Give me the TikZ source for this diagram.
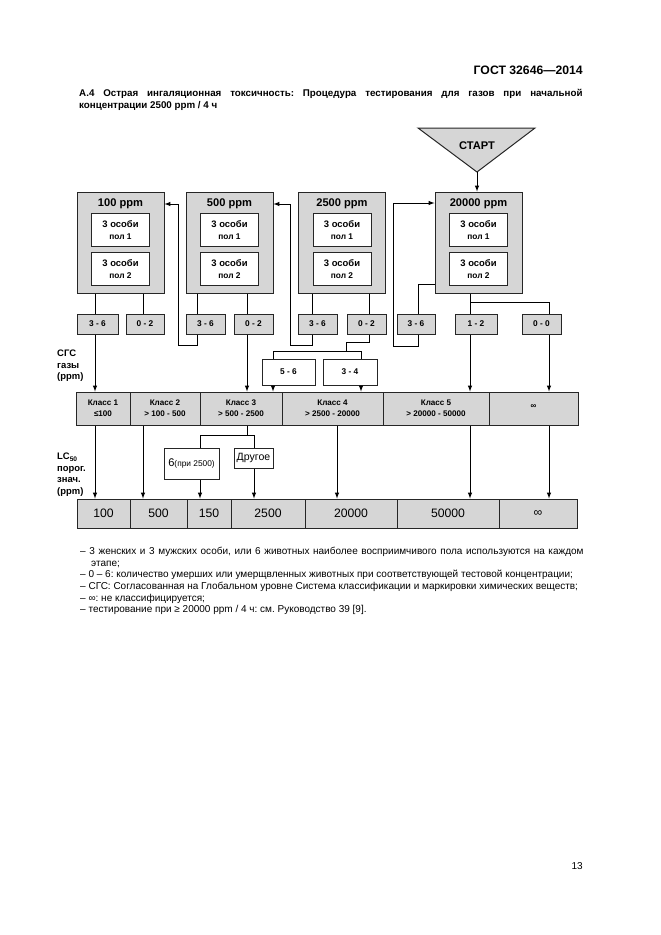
\documentclass[tikz,border=0pt]{standalone}
\usepackage{fontspec}
\setmainfont{Liberation Sans}
\usetikzlibrary{positioning,calc,arrows}
\newcommand{\ux}{0.9pt}
\frenchspacing

\begin{document}
\begin{tikzpicture}[x=0.9pt,y=-0.9pt]
\colorlet{boxcol}{gray!32}
\tikzstyle{big}=[draw=black!85, fill=boxcol, line width=0.9pt, inner sep=0, minimum width=87*\ux, minimum height=101*\ux];
\tikzstyle{ttl}=[font=\bfseries\fontsize{10}{12}\selectfont];
\tikzstyle{inbox}=[draw=black!85, fill=white, line width=0.6pt, inner sep=0, align=center, minimum width=58*\ux, minimum height=33*\ux];
\tikzstyle{cnt}=[draw=black!85, fill=boxcol, line width=0.9pt, inner sep=0, minimum height=20*\ux, font=\bfseries\fontsize{7.5}{9}\selectfont];
\tikzstyle{cls}=[draw=black!85, fill=boxcol, line width=0.9pt, inner sep=0, align=center, minimum height=33*\ux, font=\bfseries\fontsize{7.3}{10}\selectfont];
\tikzstyle{lcv}=[draw=black!85, fill=boxcol, line width=0.9pt, inner sep=0, minimum height=29*\ux, font=\fontsize{11}{13}\selectfont];
\tikzstyle{wbox}=[draw=black!85, fill=white, line width=0.9pt, inner sep=0, align=center];
\tikzstyle{side}=[anchor=north west, inner sep=0, align=left, font=\bfseries\fontsize{8.5}{10.4}\selectfont];
\tikzstyle{arr}=[->, >=latex];
\tikzstyle{con}=[line width=0.8pt];

\useasboundingbox (0,0) rectangle (661,935);

% page head
\node[anchor=base east, inner sep=0, font=\bfseries\fontsize{11}{13}\selectfont] (gost) at (583,74) {ГОСТ 32646—2014};
\node[anchor=north west, inner sep=0, text width=453pt, align=justify, font=\bfseries\fontsize{8.8}{11}\selectfont] (head) at (79,89)
  {А.4 Острая ингаляционная токсичность: Процедура тестирования для газов при начальной\linebreak концентрации 2500 ppm / 4 ч};

% start
\filldraw[fill=boxcol, draw=black!85, line width=0.9pt] (418,128) -- (535,128) -- (477,172) -- cycle;
\coordinate (apex) at (477,172);
\node[ttl] (start) at (477,146) {СТАРТ};

% test boxes
\foreach \nm/\xc/\lab in {b100/120.5/100 ppm, b500/229.5/500 ppm, b2500/342/2500 ppm, b20000/478.5/20000 ppm}
{
  \node[big] (\nm) at (\xc,242.5) {};
  \node[ttl] (\nm t) at ($(\nm.north)+(0,12)$) {\lab};
  \node[inbox] (\nm a) at ($(\nm.north)+(0,38.5)$) {{\bfseries\fontsize{8.5}{10}\selectfont 3 особи}\\[-0.5pt]{\bfseries\fontsize{7.5}{9}\selectfont пол 1}};
  \node[inbox] (\nm b) at ($(\nm.north)+(0,77.5)$) {{\bfseries\fontsize{8.5}{10}\selectfont 3 особи}\\[-0.5pt]{\bfseries\fontsize{7.5}{9}\selectfont пол 2}};
}

% outcome boxes
\foreach \nm/\xc/\w/\lab in {s1/97.5/41/3 - 6, s2/145/38/0 - 2, s3/205.5/39/3 - 6, s4/253.5/39/0 - 2, s5/317.5/39/3 - 6, s6/366.5/39/0 - 2, s7/416/38/3 - 6, s8/476/42/1 - 2, s9/541.5/39/0 - 0}
  \node[cnt, minimum width=\w*\ux] (\nm) at (\xc,324) {\lab};

\node[wbox, minimum width=53*\ux, minimum height=26*\ux, font=\bfseries\fontsize{7.5}{9}\selectfont] (m56) at (288.5,372) {5 - 6};
\node[wbox, minimum width=54*\ux, minimum height=26*\ux, font=\bfseries\fontsize{7.5}{9}\selectfont] (m34) at (350,372) {3 - 4};

% GHS classes
\foreach \nm/\xc/\w/\lab in {k1/103/54/{Класс 1\\≤100}, k2/165/70/{Класс 2\\> 100 - 500}, k3/241/82/{Класс 3\\> 500 - 2500}, k4/332.5/101/{Класс 4\\> 2500 - 20000}, k5/436/106/{Класс 5\\> 20000 - 50000}, k6/533.5/89/{\raisebox{3pt}{∞}}}
  \node[cls, minimum width=\w*\ux] (\nm) at (\xc,408.5) {\lab};

\node[wbox, minimum width=55*\ux, minimum height=31*\ux] (d6) at (191.5,463.5) {{\fontsize{10}{12}\selectfont 6}{\fontsize{7.5}{9}\selectfont(при 2500)}};
\node[wbox, minimum width=39*\ux, minimum height=20*\ux, font=\fontsize{9.5}{11}\selectfont] (dd) at (253.5,458) {Другое};

% LC50 values
\foreach \nm/\xc/\w/\lab in {l1/103.5/53/100, l2/158.5/57/500, l3/209/44/150, l4/268/74/2500, l5/351/92/20000, l6/448/102/50000, l7/538/78/∞}
  \node[lcv, minimum width=\w*\ux] (\nm) at (\xc,513.5) {\lab};

\node[side] (ghs) at (57,350) {СГС\\газы\\(ppm)};
\node[side] (lcs) at (57,453) {LC\textsubscript{50}\\порог.\\знач.\\(ppm)};

% connector rails
\foreach \nm/\v in {x95/95, x143/143, x178/178, x197/197, x200/200, x247/247, x254/254, x273/273, x290/290, x312/312, x337/337, x346/346, x361/361, x369/369, x393/393, x418/418, x470/470, x549/549}
  \coordinate (\nm) at (\v,0);
\foreach \nm/\v in {y203/203, y204/204, y284/284, y302/302, y342/342, y345/345, y346/346, y351/351, y435/435}
  \coordinate (\nm) at (0,\v);

\begin{scope}[con]
  \draw[arr] (apex) -- (b20000.north -| apex);

  \draw (b100.south -| x95) -- (s1.north -| x95);
  \draw (b100.south -| x143) -- (s2.north -| x143);
  \draw[arr] (s1.south -| x95) -- (k1.north -| x95);

  \draw (b500.south -| x197) -- (s3.north -| x197);
  \draw (b500.south -| x247) -- (s4.north -| x247);
  \draw[arr] (s3.south -| x197) |- (x178 |- y345) |- (b100.east |- y204);
  \draw[arr] (s4.south -| x247) -- (k3.north -| x247);

  \draw (b2500.south -| x312) -- (s5.north -| x312);
  \draw (b2500.south -| x369) -- (s6.north -| x369);
  \draw[arr] (s5.south -| x312) |- (x290 |- y345) |- (b500.east |- y204);
  \draw (s6.south -| x369) |- (x346 |- y342) -- (x346 |- y351);
  \draw (m56.north -| x273) |- (x361 |- y351) -- (m34.north -| x361);
  \draw[arr] (m56.south -| x273) -- (k3.north -| x273);
  \draw[arr] (m34.south -| x361) -- (k4.north -| x361);

  \draw (b20000.west |- y284) -| (s7.north -| x418);
  \draw[arr] (s7.south -| x418) |- (x393 |- y346) |- (b20000.west |- y203);
  \draw (b20000.south -| x470) -- (s8.north -| x470);
  \draw (x470 |- y302) -| (s9.north -| x549);
  \draw[arr] (s8.south -| x470) -- (k5.north -| x470);
  \draw[arr] (s9.south -| x549) -- (k6.north -| x549);

  \draw[arr] (k1.south -| x95) -- (l1.north -| x95);
  \draw[arr] (k2.south -| x143) -- (l2.north -| x143);
  \draw (k3.south -| x247) -- (x247 |- y435);
  \draw (d6.north -| x200) |- (x254 |- y435) -- (dd.north -| x254);
  \draw[arr] (d6.south -| x200) -- (l3.north -| x200);
  \draw[arr] (dd.south -| x254) -- (l4.north -| x254);
  \draw[arr] (k4.south -| x337) -- (l5.north -| x337);
  \draw[arr] (k5.south -| x470) -- (l6.north -| x470);
  \draw[arr] (k6.south -| x549) -- (l7.north -| x549);
\end{scope}

% notes
\node[anchor=north west, inner sep=0, text width=453pt, align=justify, font=\fontsize{9}{10.5}\selectfont] (notes) at (80,547)
  {– 3 женских и 3 мужских особи, или 6 животных наиболее восприимчивого пола используются на каждом\linebreak\hspace*{1.1em}этапе;\\
   – 0 – 6: количество умерших или умерщвленных животных при соответствующей тестовой концентрации;\\
   – СГС: Согласованная на Глобальном уровне Система классификации и маркировки химических веществ;\\
   – ∞: не классифицируется;\\
   – тестирование при ≥ 20000 ppm / 4 ч: см. Руководство 39 [9].};

\node[anchor=base east, inner sep=0, font=\fontsize{9}{11}\selectfont] (page) at (583,869) {13};
\end{tikzpicture}
\end{document}
